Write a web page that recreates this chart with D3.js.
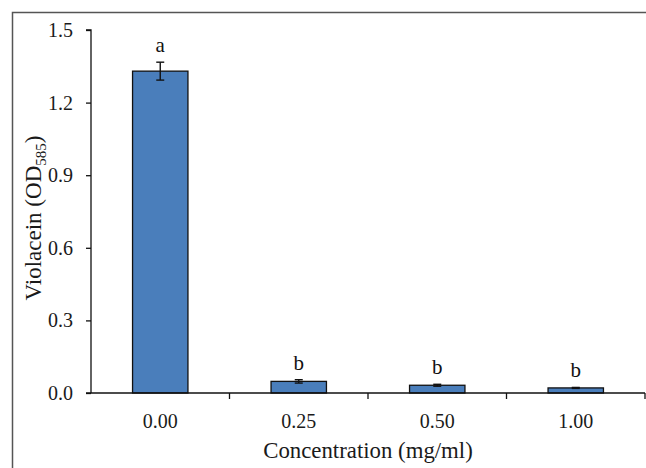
<!DOCTYPE html>
<html>
<head>
<meta charset="utf-8">
<script src="https://cdn.jsdelivr.net/npm/d3@7"></script>
<style>
  body { margin: 0; background: #fff; }
  svg { display: block; font-family: 'Liberation Serif', 'Times New Roman', serif; }
</style>
</head>
<body>
<svg id="chart" width="646" height="468"></svg>
<script>
const categories = ['0.00', '0.25', '0.50', '1.00'];
const values = [1.33, 0.048, 0.032, 0.021];
const errors = [0.037, 0.007, 0.004, 0.002];
const letters = ['a', 'b', 'b', 'b'];
const yTicks = [0, 0.3, 0.6, 0.9, 1.2, 1.5];

const MARGIN = { left: 91, right: 1, top: 30, bottom: 75 };

const svg = d3.select('#chart');
const width = +svg.attr('width');
const height = +svg.attr('height');

// outer frame (only top and left edges are visible)
svg.append('path')
  .attr('d', 'M12.5,' + height + 'V12.5H' + width)
  .attr('fill', 'none')
  .attr('stroke', '#555')
  .attr('stroke-width', 1.5);

const x = d3.scaleBand()
  .domain(categories)
  .range([MARGIN.left, width - MARGIN.right])
  .paddingInner(0.6)
  .paddingOuter(0.3);

const xOuter = d3.scaleBand()
  .domain(categories)
  .range([MARGIN.left, width - MARGIN.right]);

const y = d3.scaleLinear()
  .domain([0, 1.5])
  .range([height - MARGIN.bottom, MARGIN.top]);

// bars
svg.append('g')
  .selectAll('rect')
  .data(values)
  .enter()
  .append('rect')
  .attr('x', (d, i) => x(categories[i]))
  .attr('width', x.bandwidth())
  .attr('y', d => y(d))
  .attr('height', d => y(0) - y(d))
  .attr('fill', '#4a7ebb')
  .attr('stroke', '#111')
  .attr('stroke-width', 1.3);

// error bars
const err = svg.append('g')
  .attr('stroke', '#111')
  .attr('stroke-width', 1.4);

values.forEach((v, i) => {
  const cx = x(categories[i]) + x.bandwidth() / 2;
  err.append('line')
    .attr('x1', cx).attr('x2', cx)
    .attr('y1', y(v + errors[i])).attr('y2', y(v - errors[i]));
  [v + errors[i], v - errors[i]].forEach(e => {
    err.append('line')
      .attr('x1', cx - 4).attr('x2', cx + 4)
      .attr('y1', y(e)).attr('y2', y(e));
  });
});

// significance letters
svg.append('g')
  .selectAll('text')
  .data(letters)
  .enter()
  .append('text')
  .attr('x', (d, i) => x(categories[i]) + x.bandwidth() / 2)
  .attr('y', (d, i) => y(values[i] + errors[i]) - 10)
  .attr('text-anchor', 'middle')
  .attr('font-size', 21)
  .attr('fill', '#111')
  .text(d => d);

// y axis
const axisY = d3.axisLeft(y)
  .tickValues(yTicks)
  .tickSize(5)
  .tickPadding(13)
  .tickFormat(d3.format('.1f'));

svg.append('g')
  .attr('transform', 'translate(' + MARGIN.left + ',0)')
  .call(axisY)
  .call(g => g.select('.domain').attr('d', 'M-5,' + y(1.5) + 'H0V' + y(0)))
  .call(g => g.selectAll('line, path').attr('stroke', '#111').attr('stroke-width', 1.3))
  .call(g => g.selectAll('text').attr('font-size', 20).attr('fill', '#1a1a1a').attr('font-family', 'Liberation Serif'));

// x axis: ticks sit on category boundaries
const xg = svg.append('g')
  .attr('transform', 'translate(0,' + y(0) + ')');

xg.append('line')
  .attr('x1', MARGIN.left - 5).attr('x2', width - MARGIN.right)
  .attr('stroke', '#111').attr('stroke-width', 1.3);

xg.selectAll('.tick-line')
  .data(categories)
  .enter()
  .append('line')
  .attr('class', 'tick-line')
  .attr('x1', d => xOuter(d) + xOuter.bandwidth())
  .attr('x2', d => xOuter(d) + xOuter.bandwidth())
  .attr('y1', 0).attr('y2', 6)
  .attr('stroke', '#111').attr('stroke-width', 1.3);

xg.selectAll('.tick-label')
  .data(categories)
  .enter()
  .append('text')
  .attr('class', 'tick-label')
  .attr('x', d => xOuter(d) + xOuter.bandwidth() / 2)
  .attr('y', 35)
  .attr('text-anchor', 'middle')
  .attr('font-size', 20)
  .attr('fill', '#1a1a1a')
  .text(d => d);

// axis titles
svg.append('text')
  .attr('x', 368)
  .attr('y', 458)
  .attr('text-anchor', 'middle')
  .attr('font-size', 22.8)
  .attr('fill', '#1a1a1a')
  .text('Concentration (mg/ml)');

const yTitle = svg.append('text')
  .attr('transform', 'translate(41,218) rotate(-90)')
  .attr('text-anchor', 'middle')
  .attr('font-size', 23)
  .attr('fill', '#1a1a1a');
yTitle.append('tspan').text('Violacein (OD');
yTitle.append('tspan').attr('font-size', 15).attr('dy', 5).text('585');
yTitle.append('tspan').attr('dy', -5).text(')');
</script>
</body>
</html>
